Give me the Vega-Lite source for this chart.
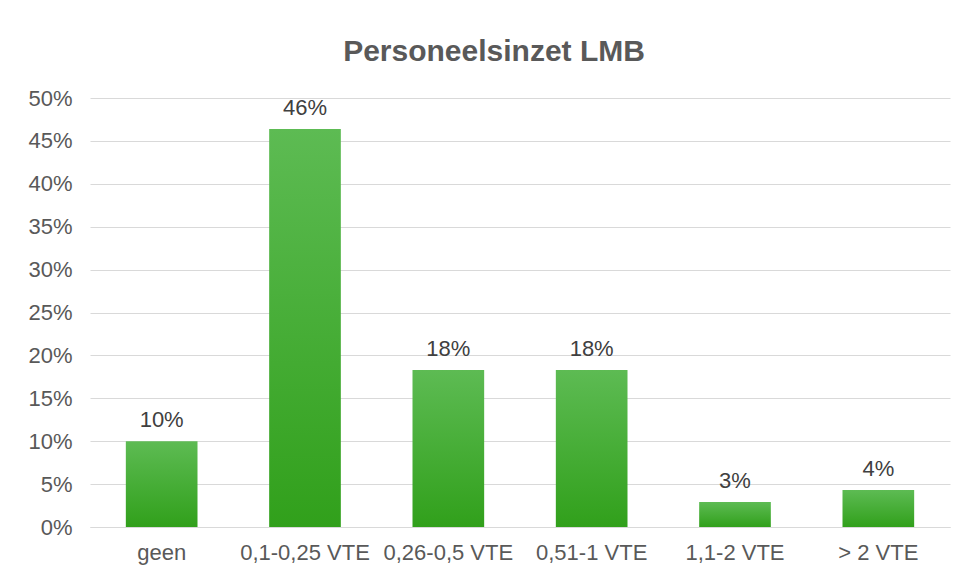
{
  "$schema": "https://vega.github.io/schema/vega-lite/v6.json",
  "width": 860,
  "height": 429,
  "autosize": {"type": "none"},
  "padding": {"left": 90, "top": 98, "right": 21, "bottom": 47},
  "background": "white",
  "title": {
    "text": "Personeelsinzet LMB",
    "font": "Liberation Sans",
    "fontSize": 30,
    "fontWeight": "bold",
    "color": "#595959",
    "anchor": "middle",
    "frame": "group",
    "baseline": "alphabetic",
    "dx": -26,
    "offset": -4
  },
  "data": {
    "values": [
      {"cat": "geen", "v": 0.10},
      {"cat": "0,1-0,25 VTE", "v": 0.464},
      {"cat": "0,26-0,5 VTE", "v": 0.183},
      {"cat": "0,51-1 VTE", "v": 0.183},
      {"cat": "1,1-2 VTE", "v": 0.029},
      {"cat": "> 2 VTE", "v": 0.043}
    ]
  },
  "encoding": {
    "x": {
      "field": "cat",
      "type": "nominal",
      "sort": null,
      "scale": {"paddingInner": 0.5, "paddingOuter": 0.25},
      "axis": {"title": null, "labelAngle": 0, "grid": false, "domain": true, "domainColor": "#d9d9d9", "ticks": false, "labelPadding": 15}
    },
    "y": {
      "field": "v",
      "type": "quantitative",
      "scale": {"domain": [0, 0.5], "nice": false},
      "axis": {
        "title": null,
        "format": ".0%",
        "values": [0, 0.05, 0.1, 0.15, 0.2, 0.25, 0.3, 0.35, 0.4, 0.45, 0.5],
        "grid": true,
        "gridColor": "#d9d9d9",
        "domain": false,
        "ticks": false,
        "labelPadding": 18
      }
    }
  },
  "layer": [
    {
      "mark": {
        "type": "bar",
        "color": {
          "gradient": "linear",
          "x1": 0, "y1": 0, "x2": 0, "y2": 1,
          "stops": [
            {"offset": 0, "color": "#5dbb53"},
            {"offset": 1, "color": "#31a01b"}
          ]
        }
      }
    },
    {
      "mark": {
        "type": "text",
        "baseline": "alphabetic",
        "dy": -14,
        "font": "Liberation Sans",
        "fontSize": 22,
        "color": "#404040"
      },
      "encoding": {
        "text": {"field": "v", "type": "quantitative", "format": ".0%"}
      }
    }
  ],
  "config": {
    "view": {"stroke": null},
    "axis": {
      "labelFont": "Liberation Sans",
      "labelFontSize": 22,
      "labelColor": "#595959"
    }
  }
}
